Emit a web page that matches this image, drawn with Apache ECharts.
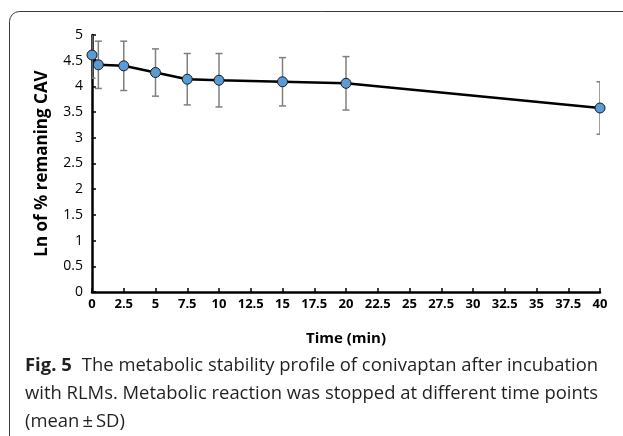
<!DOCTYPE html>
<html>
<head>
<meta charset="utf-8">
<style>
  html, body { margin: 0; padding: 0; background: #fff; }
  #chart { width: 623px; height: 436px; }
</style>
</head>
<body>
<div id="chart"></div>
<script src="https://cdn.jsdelivr.net/npm/echarts@6/dist/echarts.min.js"></script>
<script>
// values
var timeMin = [0, 0.5, 2.5, 5, 7.5, 10, 15, 20, 40];
var lnRemaining = [4.61, 4.42, 4.40, 4.27, 4.14, 4.12, 4.09, 4.06, 3.58];
var sdValues = [0.45, 0.46, 0.48, 0.46, 0.50, 0.52, 0.47, 0.52, 0.51];

var captionLines = [
    'The metabolic stability profile of conivaptan after incubation',
    'with RLMs. Metabolic reaction was stopped at different time points',
    '(mean\u2009\u00b1\u2009SD)'
];

var lineData = [];
var errData = [];
for (var i = 0; i < timeMin.length; i++) {
    lineData.push([timeMin[i], lnRemaining[i]]);
    errData.push([timeMin[i], lnRemaining[i] - sdValues[i], lnRemaining[i] + sdValues[i]]);
}

// fit caption font to the width of the first line
var capFont = 'Open Sans';
var ctx = document.createElement('canvas').getContext('2d');
ctx.font = 'bold 20px "' + capFont + '"';
var w1 = ctx.measureText('Fig. 5  ').width;
ctx.font = '20px "' + capFont + '"';
var w2 = ctx.measureText(captionLines[0]).width;
var capSize = Math.min(20, 20 * 573 / (w1 + w2));
ctx.font = 'bold ' + capSize + 'px "' + capFont + '"';
var figW = ctx.measureText('Fig. 5').width + capSize * 0.55;

var chart = echarts.init(document.getElementById('chart'));

var option = {
    backgroundColor: '#fff',
    animation: false,
    grid: { left: 92, right: 23, top: 35, bottom: 144 },
    xAxis: {
        type: 'value',
        min: 0, max: 40, interval: 2.5,
        name: 'Time (min)',
        nameLocation: 'middle',
        nameGap: 39,
        nameTextStyle: { fontFamily: 'Open Sans', fontWeight: 'bold', fontSize: 15, color: '#000' },
        axisLine: { lineStyle: { color: '#000', width: 2.5 } },
        axisTick: { inside: true, length: 4, lineStyle: { color: '#000', width: 1.5 } },
        axisLabel: { fontFamily: 'Open Sans', fontWeight: 'bold', fontSize: 13, color: '#000', margin: 6 },
        splitLine: { show: false }
    },
    yAxis: {
        type: 'value',
        min: 0, max: 5, interval: 0.5,
        name: 'Ln of % remaning CAV',
        nameLocation: 'middle',
        nameGap: 41,
        nameTextStyle: { fontFamily: 'Open Sans', fontWeight: 'bold', fontSize: 17, color: '#000' },
        axisLine: { show: true, lineStyle: { color: '#000', width: 2.5 } },
        axisTick: { show: true, inside: true, length: 4, lineStyle: { color: '#000', width: 1.5 } },
        axisLabel: { fontFamily: 'Open Sans', fontSize: 14, color: '#000', margin: 9 },
        splitLine: { show: false }
    },
    series: [
        {
            type: 'custom',
            name: 'sd',
            clip: true,
            z: 1,
            data: errData,
            renderItem: function (params, api) {
                var x = api.value(0);
                var lo = api.coord([x, api.value(1)]);
                var hi = api.coord([x, api.value(2)]);
                var h = 3.5;
                var st = { stroke: '#7f7f7f', lineWidth: 1.5 };
                return {
                    type: 'group',
                    children: [
                        { type: 'line', shape: { x1: lo[0], y1: lo[1], x2: hi[0], y2: hi[1] }, style: st },
                        { type: 'line', shape: { x1: lo[0] - h, y1: lo[1], x2: lo[0] + h, y2: lo[1] }, style: st },
                        { type: 'line', shape: { x1: hi[0] - h, y1: hi[1], x2: hi[0] + h, y2: hi[1] }, style: st }
                    ]
                };
            }
        },
        {
            type: 'line',
            z: 3,
            data: lineData,
            symbol: 'circle',
            symbolSize: 10,
            lineStyle: { color: '#000', width: 2.5 },
            itemStyle: { color: '#5b9bd5', borderColor: '#1a1a1a', borderWidth: 1 }
        }
    ],
    graphic: [
        {
            type: 'rect',
            silent: true,
            shape: { x: 9.5, y: 11.5, width: 700, height: 500, r: [10, 0, 0, 0] },
            style: { fill: 'none', stroke: '#3a3a3a', lineWidth: 1 }
        },
        {
            type: 'text', left: 25, top: 357,
            style: { text: 'Fig. 5', font: 'bold ' + capSize + 'px "' + capFont + '"', fill: '#231f20' }
        },
        {
            type: 'text', left: 25 + figW, top: 357,
            style: { text: captionLines[0], font: capSize + 'px "' + capFont + '"', fill: '#231f20' }
        },
        {
            type: 'text', left: 25, top: 385,
            style: { text: captionLines[1], font: capSize + 'px "' + capFont + '"', fill: '#231f20' }
        },
        {
            type: 'text', left: 25, top: 413,
            style: { text: captionLines[2], font: capSize + 'px "' + capFont + '"', fill: '#231f20' }
        }
    ]
};

chart.setOption(option);
</script>
</body>
</html>
